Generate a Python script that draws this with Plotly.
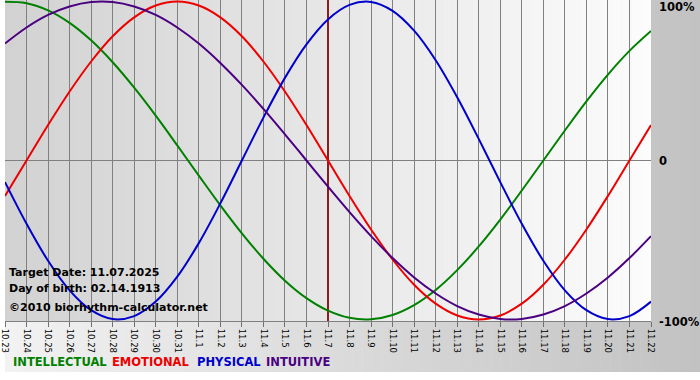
import plotly.graph_objects as go

# ---------------- data ----------------
dates = ["10.23", "10.24", "10.25", "10.26", "10.27", "10.28", "10.29", "10.30", "10.31",
         "11.1", "11.2", "11.3", "11.4", "11.5", "11.6", "11.7", "11.8", "11.9", "11.10",
         "11.11", "11.12", "11.13", "11.14", "11.15", "11.16", "11.17", "11.18", "11.19",
         "11.20", "11.21", "11.22"]
intellectual = [99.9, 99.0, 94.5, 86.6, 75.6, 61.8, 45.8, 28.2, 9.5, -9.5, -28.2, -45.8,
                -61.8, -75.6, -86.6, -94.5, -99.0, -99.9, -97.2, -91.0, -81.5, -69.0,
                -54.1, -37.2, -18.9, 0.0, 18.9, 37.2, 54.1, 69.0, 81.5]
emotional = [-22.3, 0.0, 22.3, 43.4, 62.3, 78.2, 90.1, 97.5, 100.0, 97.5, 90.1, 78.2,
             62.3, 43.4, 22.3, 0.0, -22.3, -43.4, -62.3, -78.2, -90.1, -97.5, -100.0,
             -97.5, -90.1, -78.2, -62.3, -43.4, -22.3, 0.0, 22.3]
physical = [-13.6, -39.8, -63.1, -81.7, -94.2, -99.8, -97.9, -88.8, -73.1, -52.0, -27.0,
            0.0, 27.0, 52.0, 73.1, 88.8, 97.9, 99.8, 94.2, 81.7, 63.1, 39.8, 13.6, -13.6,
            -39.8, -63.1, -81.7, -94.2, -99.8, -97.9, -88.8]
intuitive = [73.6, 83.7, 91.6, 96.9, 99.7, 99.7, 96.9, 91.6, 83.7, 73.6, 61.4, 47.6, 32.5,
             16.5, 0.0, -16.5, -32.5, -47.6, -61.4, -73.6, -83.7, -91.6, -96.9, -99.7,
             -99.7, -96.9, -91.6, -83.7, -73.6, -61.4, -47.6]
series_names = ["INTELLECTUAL", "EMOTIONAL", "PHYSICAL", "INTUITIVE"]
series_values = [intellectual, emotional, physical, intuitive]
series_colors = ["#008000", "#ee0000", "#0000cc", "#4b0082"]
y_labels = ["100%", "0", "-100%"]
y_label_vals = [100, 0, -100]
y_range = [-101, 101]
target_label = "11.7"
info_lines = ["Target Date: 11.07.2025", "Day of birth: 02.14.1913",
              "\u00a92010 biorhythm-calculator.net"]

# ---------------- geometry ----------------
W, H = 700, 380
ML, MR, MT, MB = 0, 49, 0, 59
PW, PH = W - ML - MR, H - MT - MB
FONT = "DejaVu Sans"


def px(xp):
    return (xp - ML) / PW


def py(yp):
    return (H - MB - yp) / PH


def grey(v):
    v = int(round(v))
    return "rgb(%d,%d,%d)" % (v, v, v)


shapes = []
# outer background gradient (light left -> grey right)
n_out = 70
for k in range(n_out):
    x0 = W * k / n_out
    x1 = W * (k + 1) / n_out + 0.5
    c = 242 - (242 - 194) * (k + 0.5) / n_out
    shapes.append(dict(type="rect", xref="paper", yref="paper", x0=px(x0), x1=px(x1),
                       y0=py(372), y1=py(0), fillcolor=grey(c), line_width=0, layer="below"))
# plot area gradient (grey left -> white right)
n_in = 65
for k in range(n_in):
    x0 = PW * k / n_in
    x1 = PW * (k + 1) / n_in + 0.5
    c = 210 + (252 - 210) * (k + 0.5) / n_in
    shapes.append(dict(type="rect", xref="paper", yref="paper", x0=x0 / PW, x1=min(x1 / PW, 1),
                       y0=0, y1=1, fillcolor=grey(c), line_width=0, layer="below"))

fig = go.Figure()
xs = list(range(len(dates)))
# target date line (drawn first so the curves pass over it)
ti = dates.index(target_label)
fig.add_trace(go.Scatter(x=[ti, ti], y=y_range, mode="lines",
                         line=dict(color="#8e1c1c", width=2), hoverinfo="skip"))
for name, vals, col in zip(series_names, series_values, series_colors):
    fig.add_trace(go.Scatter(x=xs, y=vals, mode="lines", name=name,
                             line=dict(color=col, width=2, shape="spline", smoothing=1.0),
                             hoverinfo="skip"))

annotations = []
# right-side percentage labels
for lab, v in zip(y_labels, y_label_vals):
    if v == 100:
        yref, yy = "paper", py(7)
    elif v == -100:
        yref, yy = "paper", py(322)
    else:
        yref, yy = "y", v
    annotations.append(dict(text=lab, xref="paper", x=1, xanchor="left", xshift=6,
                            yref=yref, y=yy, yanchor="middle", showarrow=False,
                            font=dict(family=FONT, size=11.5, color="black", weight="bold")))
# info text
for line, yp in zip(info_lines, [272, 288, 307]):
    annotations.append(dict(text=line, xref="paper", x=px(2), xanchor="left",
                            yref="paper", y=py(yp), yanchor="middle", showarrow=False,
                            font=dict(family=FONT, size=11, color="black", weight="bold")))
# legend texts
for name, col, xp in zip(series_names, series_colors, [6, 106, 191, 261]):
    annotations.append(dict(text=name, xref="paper", x=px(xp), xanchor="left",
                            yref="paper", y=py(362), yanchor="middle", showarrow=False,
                            font=dict(family=FONT, size=11.5, color=col, weight="bold")))

fig.update_layout(
    width=W, height=H,
    margin=dict(l=ML, r=MR, t=MT, b=MB, pad=0),
    paper_bgcolor="white", plot_bgcolor="white",
    showlegend=False,
    shapes=shapes, annotations=annotations,
    xaxis=dict(range=[-0.0001, len(dates) - 1 + 0.0001], tickmode="array", tickvals=xs,
               ticktext=dates, ticklabeloverflow="allow",
               tickangle=90, ticks="outside", ticklen=5, tickcolor="#707070",
               showgrid=True, gridcolor="#808080", gridwidth=1,
               showline=True, linecolor="#808080", linewidth=1,
               zeroline=False, fixedrange=True,
               tickfont=dict(family=FONT, size=8.5, color="black")),
    yaxis=dict(range=y_range, showgrid=False, showticklabels=False,
               zeroline=True, zerolinecolor="#808080", zerolinewidth=1,
               showline=False, fixedrange=True),
)

fig.write_html("out.html", config={"displayModeBar": False},
               post_script="document.body.style.margin='0';document.body.style.overflow='hidden';")
